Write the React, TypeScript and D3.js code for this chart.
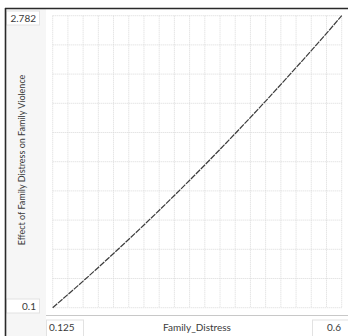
import React from "react";
import * as d3 from "d3";

const xValues = [0.125, 0.175, 0.225, 0.275, 0.325, 0.375, 0.425, 0.475, 0.525, 0.575, 0.6];
const yValues = [0.1, 0.344, 0.598, 0.86, 1.131, 1.411, 1.7, 1.998, 2.305, 2.62, 2.782];
const xDomain = [0.125, 0.6];
const yDomain = [0.1, 2.782];
const xTickLabels = ["0.125", "0.6"];
const yTickLabels = ["0.1", "2.782"];
const xTitle = "Family_Distress";
const yTitle = "Effect of Family Distress on Family Violence";

const W = 348;
const H = 336;

export default function App() {
  const x = d3.scaleLinear().domain(xDomain).range([52.7, 341.7]);
  const y = d3.scaleLinear().domain(yDomain).range([307.7, 15.7]);
  const xGrid = d3.range(0, 20).map((i) => xDomain[0] + i * 0.025);
  const yGrid = d3.range(0, 11).map((i) => yDomain[0] + (i * (yDomain[1] - yDomain[0])) / 10);
  const pts: [number, number][] = xValues.map((v, i) => [v, yValues[i]]);
  const line = d3
    .line<[number, number]>()
    .x((d) => x(d[0]))
    .y((d) => y(d[1]))
    .curve(d3.curveMonotoneX);
  const font = "Lato, 'Segoe UI', sans-serif";
  const textColor = "#3a3a3a";
  return (
    <svg
      width={W}
      height={H}
      style={{ position: "absolute", left: 0, top: 0, background: "#fff" }}
    >
      <rect x={0} y={0} width={W} height={H} fill="#fff" />
      {/* left panel */}
      <rect x={6} y={9} width={40} height={H - 9} fill="#f6f6f6" />
      {/* grid */}
      {xGrid.map((g, i) => (
        <line
          key={"gx" + i}
          x1={x(g)}
          x2={x(g)}
          y1={y(yDomain[1])}
          y2={y(yDomain[0])}
          stroke="#d9d9d9"
          strokeWidth={1}
          strokeDasharray="1 1"
        />
      ))}
      {yGrid.map((g, i) => (
        <line
          key={"gy" + i}
          x1={x(xDomain[0])}
          x2={x(xDomain[1])}
          y1={y(g)}
          y2={y(g)}
          stroke="#d9d9d9"
          strokeWidth={1}
          strokeDasharray="1 1"
        />
      ))}
      {/* curve */}
      <path d={line(pts) || ""} fill="none" stroke="#3c3c3c" strokeWidth={1.2} strokeDasharray="6 1" />
      {/* bottom axis line */}
      <line x1={46} x2={W} y1={315.5} y2={315.5} stroke="#c8c8c8" strokeWidth={1} />
      {/* y tick label boxes */}
      <rect x={6.5} y={11} width={33} height={14} fill="#fff" stroke="#e2e2e2" />
      <text x={36} y={22} fontFamily={font} fontSize={10} fill={textColor} textAnchor="end">
        {yTickLabels[1]}
      </text>
      <rect x={6.5} y={299} width={33} height={14} fill="#fff" stroke="#e2e2e2" />
      <text x={36} y={310} fontFamily={font} fontSize={10} fill={textColor} textAnchor="end">
        {yTickLabels[0]}
      </text>
      {/* x tick label boxes */}
      <rect x={46.5} y={320} width={37} height={17} fill="#fff" stroke="#e2e2e2" />
      <text x={49} y={331} fontFamily={font} fontSize={10} fill={textColor}>
        {xTickLabels[0]}
      </text>
      <rect x={312.5} y={320} width={37} height={17} fill="#fff" stroke="#e2e2e2" />
      <text x={341} y={331} fontFamily={font} fontSize={10} fill={textColor} textAnchor="end">
        {xTickLabels[1]}
      </text>
      {/* titles */}
      <text x={197} y={331} fontFamily={font} fontSize={10} fill={textColor} textAnchor="middle">
        {xTitle}
      </text>
      <text
        transform="translate(25,160) rotate(-90)"
        fontFamily={font}
        fontSize={9}
        fill={textColor}
        textAnchor="middle"
      >
        {yTitle}
      </text>
      {/* outer border */}
      <line x1={5} x2={W} y1={8.5} y2={8.5} stroke="#2a2a2a" strokeWidth={1.6} />
      <line x1={5.5} x2={5.5} y1={8} y2={H} stroke="#2a2a2a" strokeWidth={1.6} />
    </svg>
  );
}
